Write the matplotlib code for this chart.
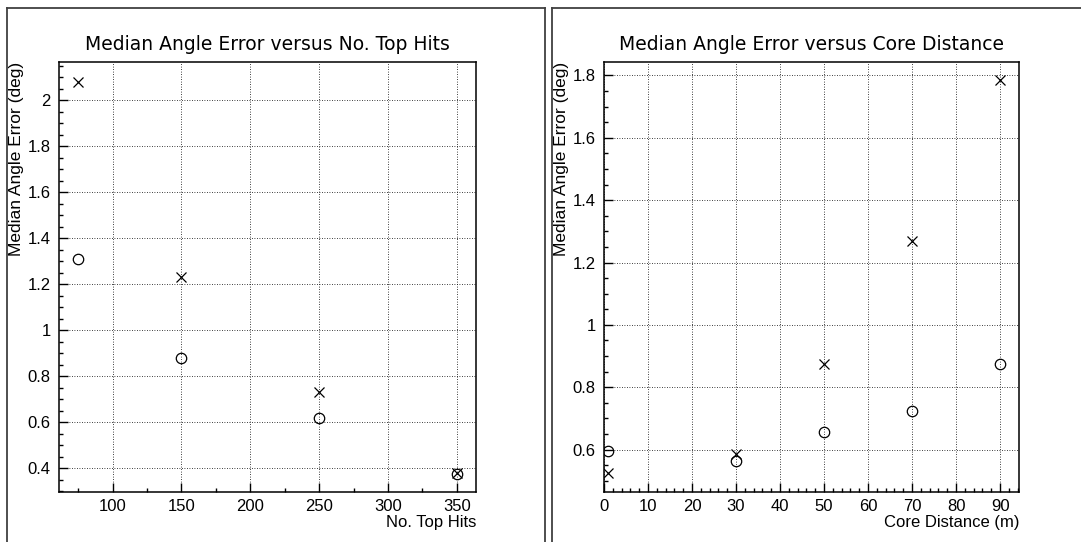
import numpy as np
import matplotlib
matplotlib.use('Agg')
import matplotlib.pyplot as plt
from matplotlib.lines import Line2D
from matplotlib.ticker import MultipleLocator, FuncFormatter

# 데이터: 왼쪽 (No. Top Hits)
top_hits = [75, 150, 250, 350]
hits_err_x = [2.08, 1.23, 0.73, 0.38]
hits_err_o = [1.31, 0.88, 0.62, 0.375]

# 데이터: 오른쪽 (Core Distance)
core_dist = [1, 30, 50, 70, 90]
core_err_x = [0.525, 0.585, 0.875, 1.27, 1.785]
core_err_o = [0.595, 0.565, 0.655, 0.725, 0.875]

W, H = 1081, 542
fig = plt.figure(figsize=(W / 100, H / 100), dpi=100)
plt.rcParams['font.family'] = ['Liberation Sans', 'DejaVu Sans']


def fx(px):
    return px / W


def fy(py):
    return 1 - py / H


# 패드 테두리
border = dict(color='#404040', linewidth=1.3, transform=fig.transFigure)
fig.add_artist(Line2D([fx(7), fx(7)], [fy(542), fy(8)], **border))
fig.add_artist(Line2D([fx(7), fx(545)], [fy(8), fy(8)], **border))
fig.add_artist(Line2D([fx(545), fx(545)], [fy(8), fy(542)], **border))
fig.add_artist(Line2D([fx(552), fx(552)], [fy(542), fy(8)], **border))
fig.add_artist(Line2D([fx(552), fx(1081)], [fy(8), fy(8)], **border))

gfmt = FuncFormatter(lambda v, p: f'{v:g}')


def setup(ax, title, xlabel, xlim, ylim, xmaj, xmin, ymaj, ymin):
    ax.set_xlim(*xlim)
    ax.set_ylim(*ylim)
    ax.xaxis.set_major_locator(MultipleLocator(xmaj))
    ax.xaxis.set_minor_locator(MultipleLocator(xmin))
    ax.yaxis.set_major_locator(MultipleLocator(ymaj))
    ax.yaxis.set_minor_locator(MultipleLocator(ymin))
    ax.xaxis.set_major_formatter(gfmt)
    ax.yaxis.set_major_formatter(gfmt)
    ax.tick_params(which='both', direction='in', top=False, right=False,
                   labelsize=12, width=1.0, color='black')
    ax.tick_params(which='major', length=6.5, pad=5)
    ax.tick_params(which='minor', length=3)
    ax.tick_params(axis='y', which='major', pad=6)
    for s in ax.spines.values():
        s.set_linewidth(1.1)
    ax.grid(True, which='major', color='black', linestyle=(0, (1, 2)),
            linewidth=0.6)
    ax.set_axisbelow(True)
    ax.set_title(title, fontsize=13.5, pad=9, family=['DejaVu Sans'],
                 color='black')
    ax.set_xlabel(xlabel, loc='right', fontsize=12, labelpad=1)
    ax.set_ylabel('Median Angle Error (deg)', loc='top', fontsize=12.5)
    ax.yaxis.set_label_coords(-35 / (ax.get_position().width * W), 1.0)


ax1 = fig.add_axes([fx(59), fy(492), fx(476 - 59), (492 - 62) / H])
ax1.plot(top_hits, hits_err_x, 'x', color='black', ms=7, mew=0.9)
ax1.plot(top_hits, hits_err_o, 'o', mfc='none', mec='black', ms=7.5, mew=0.9)
setup(ax1, 'Median Angle Error versus No. Top Hits', 'No. Top Hits',
      (61, 364), (0.297, 2.166), 50, 25, 0.2, 0.05)

ax2 = fig.add_axes([fx(604), fy(492), fx(1019 - 604), (492 - 62) / H])
ax2.plot(core_dist, core_err_x, 'x', color='black', ms=7, mew=0.9)
ax2.plot(core_dist, core_err_o, 'o', mfc='none', mec='black', ms=7.5, mew=0.9)
setup(ax2, 'Median Angle Error versus Core Distance', 'Core Distance (m)',
      (0, 94.3), (0.464, 1.843), 10, 2, 0.2, 0.05)

fig.savefig('out.png', dpi=100)
